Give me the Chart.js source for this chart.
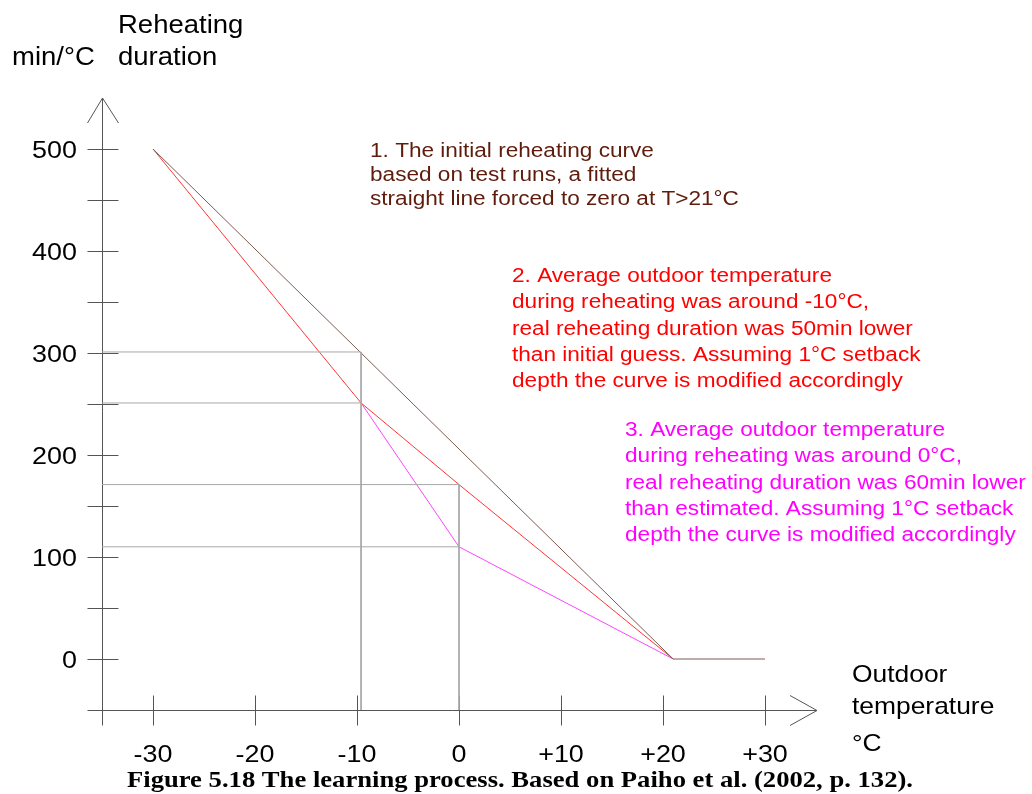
<!DOCTYPE html>
<html>
<head>
<meta charset="utf-8">
<script src="https://cdn.jsdelivr.net/npm/chart.js@4"></script>
<style>
html,body{margin:0;padding:0;background:#fff;}
#wrap{width:1032px;height:794px;position:relative;}
</style>
</head>
<body>
<div id="wrap"><canvas id="c"></canvas></div>
<script>
// ---- data ----
const xTickValues = [-30, -20, -10, 0, 10, 20, 30];
const xTickLabels = ['-30', '-20', '-10', '0', '+10', '+20', '+30'];
const yLabelValues = [0, 100, 200, 300, 400, 500];
const yTickValues = [0, 50, 100, 150, 200, 250, 300, 350, 400, 450, 500];

const initialX = [-30, 21, 30];
const initialY = [500, 0, 0];
const step2X = [-30, -9.6, 0, 21];
const step2Y = [500, 251, 171, 0];
const step3X = [-9.6, 0, 21];
const step3Y = [251, 110, 0];

const guideHy = [301, 251, 171, 110];
const guideHend = [-9.6, -9.6, 0, 0];
const guideVx = [-9.6, 0];
const guideVtop = [301, 171];

const note1 = ['1. The initial reheating curve', 'based on test runs, a fitted', 'straight line forced to zero at T>21°C'];
const note2 = ['2. Average outdoor temperature', 'during reheating was around -10°C,', 'real reheating duration was 50min lower', 'than initial guess. Assuming 1°C setback', 'depth the curve is modified accordingly'];
const note3 = ['3. Average outdoor temperature', 'during reheating was around 0°C,', 'real reheating duration was 60min lower', 'than estimated. Assuming 1°C setback', 'depth the curve is modified accordingly'];
const titleText = 'Figure 5.18 The learning process. Based on Paiho et al. (2002, p. 132).';

const X_MIN = -35, X_MAX = 35, Y_MIN = -50, Y_MAX = 550;

function pts(xs, ys) { return xs.map((x, i) => ({x: x, y: ys[i]})); }

const GUIDE = '#a8a8a8';
const datasets = [];
guideHy.forEach((y, i) => datasets.push({data: pts([X_MIN, guideHend[i]], [y, y]), borderColor: GUIDE}));
guideVx.forEach((x, i) => datasets.push({data: pts([x, x], [guideVtop[i], Y_MIN]), borderColor: GUIDE}));
datasets.push({data: pts(initialX, initialY), borderColor: '#7d5a50'});
datasets.push({data: pts(step2X, step2Y), borderColor: '#ff3535'});
datasets.push({data: pts(step3X, step3Y), borderColor: '#ff44ff'});
datasets.forEach(d => { d.showLine = true; d.pointRadius = 0; d.borderWidth = 1; d.clip = false; d.fill = false; });

function txt(ctx, s, x, y, size, color, align, sx, family, weight) {
  ctx.save();
  ctx.font = (weight || 'normal') + ' ' + size + 'px ' + (family || '"Liberation Sans", Arial, sans-serif');
  ctx.fillStyle = color;
  ctx.textBaseline = 'alphabetic';
  ctx.textAlign = 'left';
  const w = ctx.measureText(s).width * sx;
  let x0 = x;
  if (align === 'right') x0 = x - w;
  else if (align === 'center') x0 = x - w / 2;
  ctx.translate(x0, y);
  ctx.scale(sx, 1);
  ctx.fillText(s, 0, 0);
  ctx.restore();
}

const decor = {
  id: 'decor',
  beforeDatasetsDraw(chart) {
    const ctx = chart.ctx;
    const xs = chart.scales.x, ys = chart.scales.y;
    const X = v => xs.getPixelForValue(v), Y = v => ys.getPixelForValue(v);
    const ax = Math.round(X(X_MIN)) + 0.5, ay = Math.round(Y(Y_MIN)) + 0.5;
    ctx.save();
    ctx.strokeStyle = '#555555';
    ctx.lineWidth = 1;
    ctx.beginPath();
    // y axis
    ctx.moveTo(ax, Y(Y_MAX)); ctx.lineTo(ax, ay + 15);
    // x axis
    ctx.moveTo(ax - 15, ay); ctx.lineTo(X(X_MAX) + 1, ay);
    // y ticks
    yTickValues.forEach(v => { const p = Math.round(Y(v)) + 0.5; ctx.moveTo(ax - 15, p); ctx.lineTo(ax + 16, p); });
    // x ticks
    xTickValues.forEach(v => { const p = Math.round(X(v)) + 0.5; ctx.moveTo(p, ay - 15); ctx.lineTo(p, ay + 15); });
    // arrows
    const ty = Y(Y_MAX);
    ctx.moveTo(ax - 15, ty + 25); ctx.lineTo(ax, ty); ctx.lineTo(ax + 16, ty + 25);
    const tx = X(X_MAX) + 1;
    ctx.moveTo(tx - 27, ay - 15); ctx.lineTo(tx, ay); ctx.lineTo(tx - 27, ay + 15);
    ctx.stroke();
    ctx.restore();

    // tick labels
    yLabelValues.forEach(v => txt(ctx, String(v), 77, Y(v) + 9, 23, '#000', 'right', 1.17));
    xTickValues.forEach((v, i) => txt(ctx, xTickLabels[i], X(v), 762, 23, '#000', 'center', 1.17));

    // axis titles
    txt(ctx, 'Reheating', 118, 33, 25, '#000', 'left', 1.1);
    txt(ctx, 'duration', 118, 65, 25, '#000', 'left', 1.1);
    txt(ctx, 'min/°C', 12, 65, 25, '#000', 'left', 1.1);
    txt(ctx, 'Outdoor', 852, 682, 24, '#000', 'left', 1.1);
    txt(ctx, 'temperature', 852, 714, 24, '#000', 'left', 1.1);
    txt(ctx, '°C', 852, 751, 24, '#000', 'left', 1.1);

    // notes
    note1.forEach((s, i) => txt(ctx, s, 370, 157 + i * 24, 20, '#5e1c0c', 'left', 1.13));
    note2.forEach((s, i) => txt(ctx, s, 512, 282 + i * 26.3, 20, '#ff0000', 'left', 1.13));
    note3.forEach((s, i) => txt(ctx, s, 625, 436 + i * 26.3, 20, '#ff00ff', 'left', 1.13));

    // title fitted to width
    const TF = '"Liberation Serif", "Times New Roman", serif';
    ctx.save();
    ctx.font = 'bold 23px ' + TF;
    const tw = ctx.measureText(titleText).width;
    ctx.restore();
    txt(ctx, titleText, 127, 787, 23, '#000', 'left', 786 / tw, TF, 'bold');
  }
};

new Chart(document.getElementById('c'), {
  type: 'scatter',
  data: {datasets: datasets},
  options: {
    responsive: true,
    maintainAspectRatio: false,
    animation: false,
    events: [],
    layout: {padding: {left: 102, right: 216, top: 98, bottom: 84}},
    plugins: {legend: {display: false}, tooltip: {enabled: false}},
    scales: {
      x: {type: 'linear', min: X_MIN, max: X_MAX, display: false},
      y: {type: 'linear', min: Y_MIN, max: Y_MAX, display: false}
    }
  },
  plugins: [decor]
});
</script>
</body>
</html>
